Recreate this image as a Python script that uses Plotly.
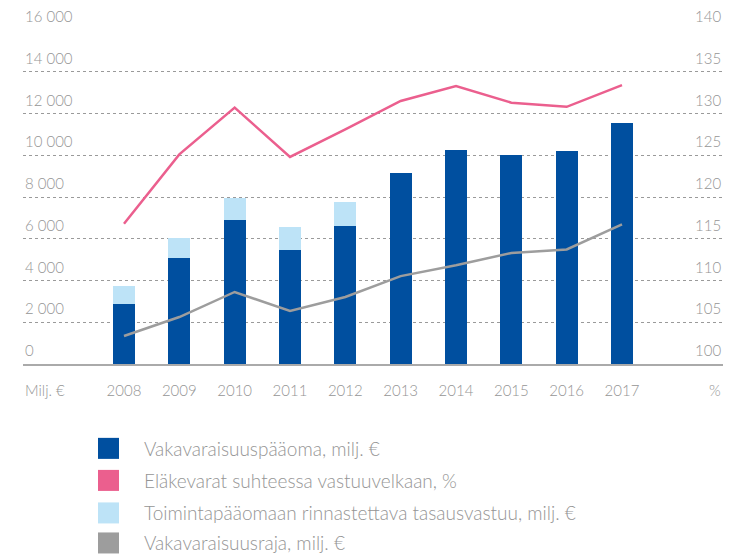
import plotly.graph_objects as go

years = [2008, 2009, 2010, 2011, 2012, 2013, 2014, 2015, 2016, 2017]
solvency_capital = [2860, 5070, 6890, 5450, 6600, 9150, 10250, 10010, 10200, 11540]
equalization_reserve = [870, 960, 1040, 1110, 1160, 0, 0, 0, 0, 0]
pension_ratio = [116.8, 125.1, 130.7, 124.8, 128.1, 131.5, 133.3, 131.3, 130.8, 133.4]
solvency_limit = [1340, 2250, 3450, 2540, 3210, 4210, 4730, 5320, 5490, 6690]

left_ticks = [0, 2000, 4000, 6000, 8000, 10000, 12000, 14000, 16000]
left_labels = ["0", "2 000", "4 000", "6 000", "8 000", "10 000", "12 000", "14 000", "16 000"]
right_ticks = [100, 105, 110, 115, 120, 125, 130, 135, 140]
right_labels = ["100", "105", "110", "115", "120", "125", "130", "135", "140"]

legend_names = [
    "Vakavaraisuuspääoma, milj. €",
    "Eläkevarat suhteessa vastuuvelkaan, %",
    "Toimintapääomaan rinnastettava tasausvastuu, milj. €",
    "Vakavaraisuusraja, milj. €",
]
DARK = "#004f9f"
PINK = "#eb5f8e"
LIGHT = "#bde3f7"
GRAY = "#9d9d9d"
legend_colors = [DARK, PINK, LIGHT, GRAY]
TXT = "#959595"
FONT = "Lato"

fig = go.Figure()
fig.add_trace(go.Bar(x=years, y=solvency_capital, marker=dict(color=DARK, line=dict(width=0)),
                     name=legend_names[0]))
fig.add_trace(go.Bar(x=years, y=equalization_reserve, marker=dict(color=LIGHT, line=dict(width=0)),
                     name=legend_names[2]))
fig.add_trace(go.Scatter(x=years, y=solvency_limit, mode="lines", line=dict(color=GRAY, width=2.5),
                         name=legend_names[3]))
fig.add_trace(go.Scatter(x=years, y=pension_ratio, mode="lines", line=dict(color=PINK, width=2.5),
                         yaxis="y2", name=legend_names[1]))

# page body has an 8px default margin; layout designed in page pixels, shifted by OFF
OFF = 8
W, H = 740 - OFF, 554 - OFF
L, R, T, B = 23 - OFF, 723 - OFF, 30 - OFF, 363.7 - OFF

def px(x):
    return (x - OFF - L) / (R - L)

def py(y):
    return (B - (y - OFF)) / (B - T)

tickfont = dict(size=15, color=TXT, family=FONT, weight=300)

shapes = []
annotations = []
rows = [448, 480, 512.5, 542.5]
for name, col, yc in zip(legend_names, legend_colors, rows):
    shapes.append(dict(type="rect", xref="paper", yref="paper",
                       x0=px(98), x1=px(119), y0=py(yc + 10.5), y1=py(yc - 10.5),
                       fillcolor=col, line=dict(width=0)))
    annotations.append(dict(xref="paper", yref="paper", x=px(142), y=py(yc), text=name,
                            showarrow=False, xanchor="left", yanchor="middle",
                            font=dict(size=19, color=TXT, family=FONT, weight=300)))
annotations.append(dict(xref="paper", yref="paper", x=0, y=py(390), text="Milj. €", showarrow=False,
                        xanchor="left", yanchor="middle", font=tickfont))
annotations.append(dict(xref="paper", yref="paper", x=1, y=py(390), text="%", showarrow=False,
                        xanchor="right", yanchor="middle", font=tickfont))
for v, t in zip(left_ticks, left_labels):
    annotations.append(dict(xref="paper", yref="y", x=0, y=v, text=t, showarrow=False,
                            xanchor="left", yanchor="bottom", yshift=3, font=tickfont))
for v, t in zip(right_ticks, right_labels):
    annotations.append(dict(xref="paper", yref="y2", x=1, y=v, text=t, showarrow=False,
                            xanchor="right", yanchor="bottom", yshift=3, font=tickfont))

fig.update_layout(
    width=W, height=H,
    margin=dict(l=L, r=W - R, t=T, b=H - B, autoexpand=False),
    paper_bgcolor="white", plot_bgcolor="white",
    barmode="stack", bargap=0.6,
    showlegend=False,
    xaxis=dict(range=[2006.175, 2018.825], tickvals=years, ticktext=[str(y) for y in years],
               showgrid=False, zeroline=False, showline=True, linecolor="#aaaaaa", linewidth=1.5,
               ticks="", tickfont=tickfont, ticklabelstandoff=12, automargin=False),
    yaxis=dict(range=[0, 16000], tickvals=left_ticks, showticklabels=False,
               showgrid=True, gridcolor="#9a9a9a", griddash="dot", gridwidth=1,
               zeroline=False, ticks="", automargin=False),
    yaxis2=dict(range=[100, 140], tickvals=right_ticks, showticklabels=False, overlaying="y",
                side="right", showgrid=False, zeroline=False, ticks="", automargin=False),
    shapes=shapes, annotations=annotations,
)

fig.write_html("out.html")
